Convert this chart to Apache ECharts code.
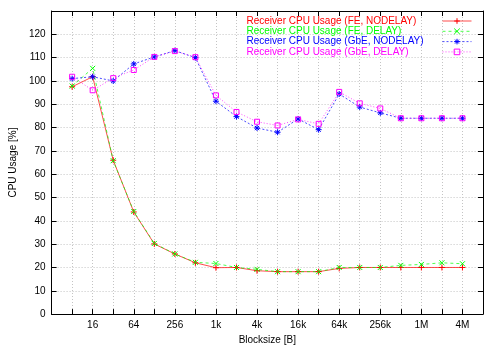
<!DOCTYPE html>
<html>
<head>
<meta charset="utf-8">
<script src="https://cdn.jsdelivr.net/npm/echarts@6/dist/echarts.min.js"></script>
<style>html,body{margin:0;padding:0;background:#fff}#c{width:500px;height:350px}</style>
</head>
<body>
<div id="c"></div>
<script>
var blocksizes = [8,16,32,64,128,256,512,1024,2048,4096,8192,16384,32768,65536,131072,262144,524288,1048576,2097152,4194304];
var feNodelay  = [97.5,101.8,66,43.8,30.1,25.8,22.0,19.9,20.0,18.6,18.2,18.2,18.2,19.6,20,20,20,20,20,20];
var feDelay    = [97.8,105.4,65.8,44,30.3,25.8,22.2,21.7,20.0,19.2,18.2,18.2,18.2,20,20,20,20.9,21.3,22,21.6];
var gbeNodelay = [101,101.8,100,107.3,110.3,113,110,91.3,84.7,79.8,78,83.7,79.1,94.4,88.8,86.3,84,84,84,84];
var gbeDelay   = [101.8,96,101.2,104.7,110.3,112.8,110.2,93.8,86.7,82.5,80.9,83.5,81.6,95.3,90.4,88.2,84,84,84,84];
var seriesNames = ['Receiver CPU Usage (FE, NODELAY)','Receiver CPU Usage (FE, DELAY)','Receiver CPU Usage (GbE, NODELAY)','Receiver CPU Usage (GbE, DELAY)'];
var xTickValues = [16,64,256,1024,4096,16384,65536,262144,1048576,4194304];
var xTickLabels = ['16','64','256','1k','4k','16k','64k','256k','1M','4M'];
var xMinSize = 4, xMaxSize = 8388608;
var yMin = 0, yMax = 130, yStep = 10;

var colors = ['#ff0000','#00ff00','#0000ff','#ff00ff'];
var FONT = "'Liberation Sans', Arial, Helvetica, sans-serif";
function pts(arr){ return blocksizes.map(function(b,i){ return [Math.log2(b), arr[i]]; }); }
function xfmt(v){
  var s = Math.round(Math.pow(2, v));
  var i = xTickValues.indexOf(s);
  return i >= 0 ? xTickLabels[i] : '';
}
var symbols = [
  'path://M0,5L10,5M5,0L5,10',
  'path://M0,0L10,10M10,0L0,10',
  'path://M0,5L10,5M5,0L5,10M1.5,1.5L8.5,8.5M8.5,1.5L1.5,8.5',
  'path://M0,0L10,0L10,10L0,10Z'
];
var symSizes = [6,5,6,5];
var lineTypes = ['solid',[3,3],[2,2],[1,2]];
var datasets = [feNodelay, feDelay, gbeNodelay, gbeDelay];

var xBase = {
  type:'value', min:Math.log2(xMinSize), max:Math.log2(xMaxSize), interval:1,
  axisLine:{show:true, onZero:false, lineStyle:{color:'#000', width:1}},
  axisTick:{show:true, inside:true, length:5, lineStyle:{color:'#000'}}
};
var yBase = {
  type:'value', min:yMin, max:yMax, interval:yStep,
  axisLine:{show:true, onZero:false, lineStyle:{color:'#000', width:1}},
  axisTick:{show:true, inside:true, length:5, lineStyle:{color:'#000'}}
};

var chart = echarts.init(document.getElementById('c'), null, {renderer:'canvas'});
chart.setOption({
  animation:false,
  backgroundColor:'#fff',
  textStyle:{fontFamily:FONT},
  grid:{left:43, top:11, right:17, bottom:29, containLabel:false},
  legend:{
    orient:'vertical', right:28, top:16, padding:0, align:'right',
    itemWidth:29, itemHeight:7, itemGap:0.3,
    formatter:'{a|{name}}',
    textStyle:{fontFamily:FONT, fontSize:10, lineHeight:10},
    lineStyle:{width:1, opacity:0.7},
    itemStyle:{borderWidth:1},
    data: seriesNames.map(function(n,i){
      return {name:n, textStyle:{color:colors[i], rich:{a:{width:191, align:'left', color:colors[i], fontFamily:FONT, fontSize:10, lineHeight:10}}}};
    })
  },
  xAxis:[
    Object.assign({}, xBase, {
      position:'bottom',
      name:'Blocksize [B]', nameLocation:'middle', nameGap:18,
      nameTextStyle:{fontFamily:FONT, fontSize:10, color:'#000'},
      axisLabel:{show:true, margin:6, fontFamily:FONT, fontSize:10, color:'#000', formatter:xfmt, showMinLabel:false, showMaxLabel:false},
      splitLine:{show:true, lineStyle:{color:'#c4c4c4', type:[1,2], width:1}}
    }),
    Object.assign({}, xBase, {position:'top', axisLabel:{show:false}, splitLine:{show:false}})
  ],
  yAxis:[
    Object.assign({}, yBase, {
      position:'left',
      name:'CPU Usage [%]', nameLocation:'middle', nameGap:26, nameRotate:90,
      nameTextStyle:{fontFamily:FONT, fontSize:10, color:'#000'},
      axisLabel:{show:true, margin:6, fontFamily:FONT, fontSize:10, color:'#000', showMaxLabel:false},
      splitLine:{show:true, lineStyle:{color:'#c4c4c4', type:[1,2], width:1}}
    }),
    Object.assign({}, yBase, {position:'right', axisLabel:{show:false}, splitLine:{show:false}})
  ],
  series: datasets.map(function(d,i){
    return {
      name:seriesNames[i], type:'line', xAxisIndex:0, yAxisIndex:0,
      data:pts(d), symbol:symbols[i], symbolSize:symSizes[i], showAllSymbol:true,
      lineStyle:{color:colors[i], width:1, type:lineTypes[i], opacity:0.7},
      itemStyle:{color:'rgba(0,0,0,0)', borderColor:colors[i], borderWidth:1},
      emphasis:{disabled:true}
    };
  })
});
</script>
</body>
</html>
